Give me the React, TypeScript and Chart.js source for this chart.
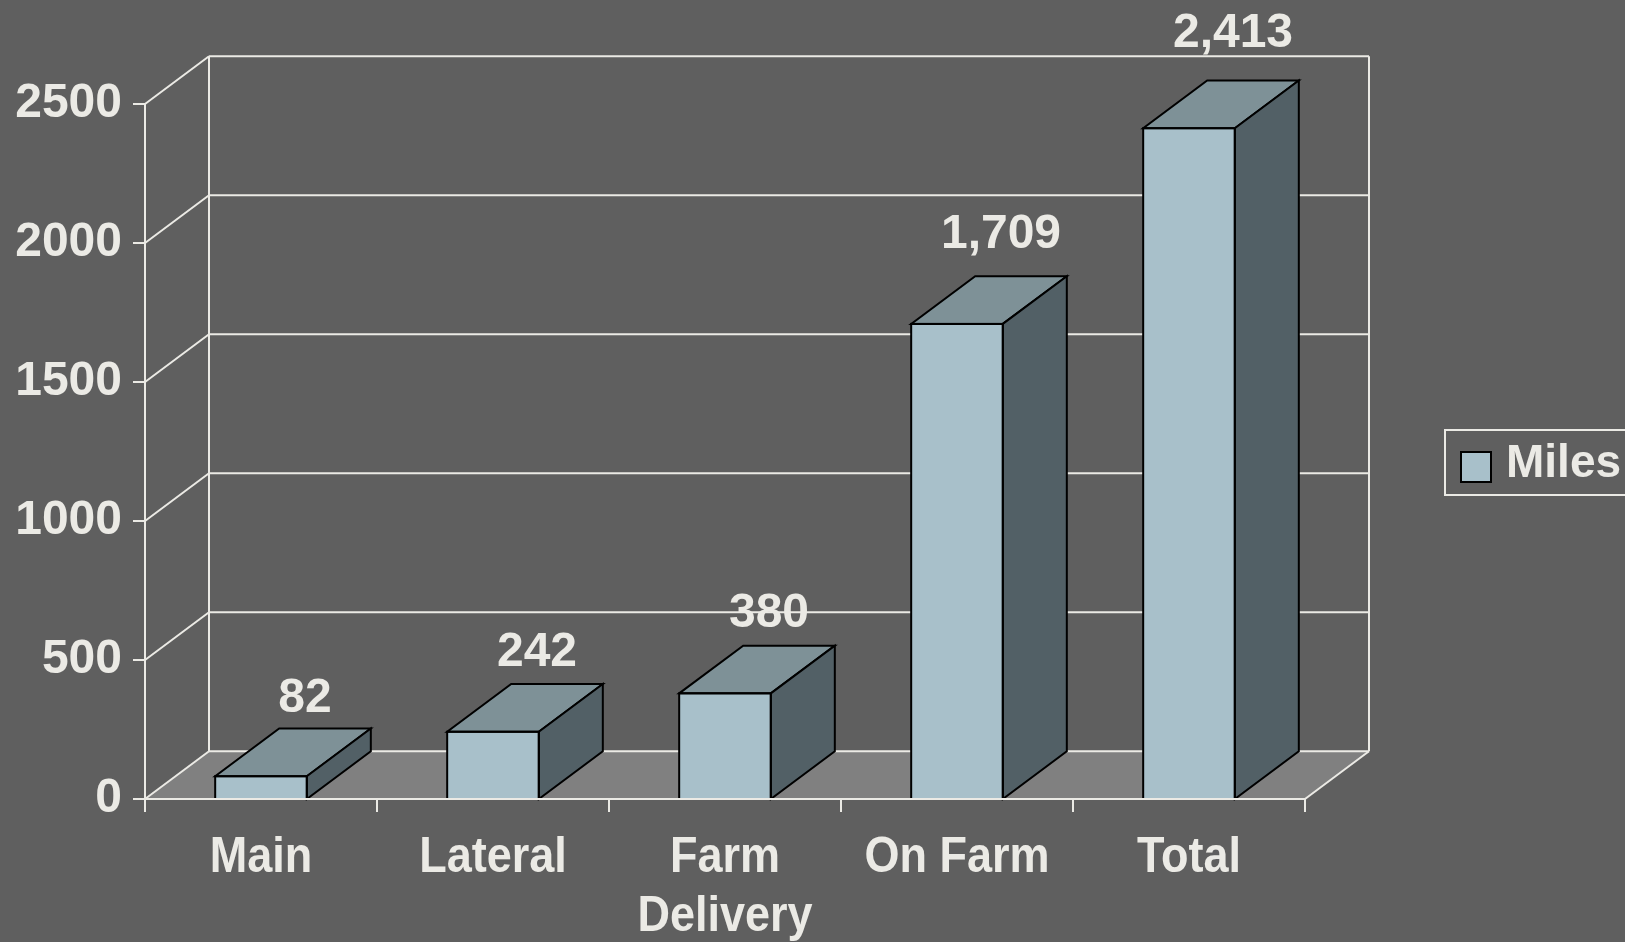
import React, { useEffect, useRef } from "react";
import { Chart, registerables } from "chart.js";

Chart.register(...registerables);

// ---- data ----
const CATEGORIES: (string | string[])[] = ["Main", "Lateral", ["Farm", "Delivery"], "On Farm", "Total"];
const MILES: number[] = [82, 242, 380, 1709, 2413];
const SERIES_LABEL = "Miles";
const Y_TICKS: number[] = [0, 500, 1000, 1500, 2000, 2500];

// ---- style ----
const BG = "#5f5f5f";
const FLOOR = "#808080";
const LINE = "#ebeae5";
const TEXT = "#ebeae5";
const FRONT = "#a8c0ca";
const TOP = "#7e9197";
const SIDE = "#526066";
const EDGE = "#000000";
const DX = 64;
const DY = 47.7;
const NUM_FONT = "'Liberation Sans', Arial, sans-serif";

const threeD = {
  id: "threeD",
  beforeDraw(chart: any) {
    const { ctx, width, height } = chart;
    ctx.save();
    ctx.fillStyle = BG;
    ctx.fillRect(0, 0, width, height);
    ctx.restore();
  },
  beforeDatasetsDraw(chart: any) {
    const { ctx, chartArea: a, scales } = chart;
    const y = scales.y;
    const y0 = y.getPixelForValue(0);
    const line = (x1: number, y1: number, x2: number, y2: number) => {
      ctx.beginPath();
      ctx.moveTo(x1, y1);
      ctx.lineTo(x2, y2);
      ctx.stroke();
    };
    ctx.save();
    // floor
    ctx.fillStyle = FLOOR;
    ctx.beginPath();
    ctx.moveTo(a.left, y0);
    ctx.lineTo(a.right, y0);
    ctx.lineTo(a.right + DX, y0 - DY);
    ctx.lineTo(a.left + DX, y0 - DY);
    ctx.closePath();
    ctx.fill();

    ctx.strokeStyle = LINE;
    ctx.lineWidth = 2;
    ctx.lineCap = "butt";
    Y_TICKS.forEach((v) => {
      const py = y.getPixelForValue(v);
      line(a.left + DX, py - DY, a.right + DX, py - DY);
      line(a.left, py, a.left + DX, py - DY);
      line(a.left - 12, py, a.left, py);
    });
    const yTop = y.getPixelForValue(Y_TICKS[Y_TICKS.length - 1]);
    line(a.left + DX, yTop - DY, a.left + DX, y0 - DY);
    line(a.right + DX, yTop - DY, a.right + DX, y0 - DY);
    line(a.left, yTop, a.left, y0);
    line(a.right, y0, a.right + DX, y0 - DY);
    ctx.restore();
  },
  afterDatasetsDraw(chart: any) {
    const { ctx, chartArea: a, scales } = chart;
    const y = scales.y;
    const x = scales.x;
    const y0 = y.getPixelForValue(0);
    const meta = chart.getDatasetMeta(0);
    const poly = (pts: number[][], fill: string) => {
      ctx.beginPath();
      ctx.moveTo(pts[0][0], pts[0][1]);
      for (let i = 1; i < pts.length; i++) ctx.lineTo(pts[i][0], pts[i][1]);
      ctx.closePath();
      ctx.fillStyle = fill;
      ctx.fill();
      ctx.stroke();
    };
    ctx.save();
    ctx.strokeStyle = EDGE;
    ctx.lineWidth = 2;
    ctx.lineJoin = "miter";
    meta.data.forEach((bar: any, i: number) => {
      const p = bar.getProps(["x", "y", "base", "width"], true);
      const xl = p.x - p.width / 2;
      const xr = p.x + p.width / 2;
      const top = p.y;
      const base = p.base;
      poly([[xl, top], [xr, top], [xr + DX, top - DY], [xl + DX, top - DY]], TOP);
      poly([[xr, top], [xr + DX, top - DY], [xr + DX, base - DY], [xr, base]], SIDE);
      ctx.strokeRect(xl, top, p.width, base - top);
      // value label
      ctx.fillStyle = TEXT;
      ctx.font = `bold 48px ${NUM_FONT}`;
      ctx.textAlign = "center";
      ctx.textBaseline = "alphabetic";
      const h = base - top;
      ctx.fillText(MILES[i].toLocaleString("en-US"), p.x + 44, top - 64 - 0.025 * h);
    });
    // front baseline and category ticks
    ctx.strokeStyle = LINE;
    ctx.lineWidth = 2;
    ctx.beginPath();
    ctx.moveTo(a.left - 12, y0);
    ctx.lineTo(a.right, y0);
    ctx.stroke();
    const n = CATEGORIES.length;
    for (let k = 0; k <= n; k++) {
      const px = a.left + (k * (a.right - a.left)) / n;
      ctx.beginPath();
      ctx.moveTo(px, y0);
      ctx.lineTo(px, y0 + 13);
      ctx.stroke();
    }
    // category labels (condensed bold)
    ctx.fillStyle = TEXT;
    ctx.font = `bold 50px ${NUM_FONT}`;
    ctx.textAlign = "center";
    ctx.textBaseline = "alphabetic";
    CATEGORIES.forEach((lab, i) => {
      const cx = x.getPixelForValue(i);
      const lines = Array.isArray(lab) ? lab : [lab];
      lines.forEach((t, j) => {
        ctx.save();
        ctx.translate(cx, y0 + 73 + j * 59);
        ctx.scale(0.9, 1);
        ctx.fillText(t, 0, 0);
        ctx.restore();
      });
    });
    ctx.restore();
  },
  afterDraw(chart: any) {
    const { ctx, chartArea: a } = chart;
    ctx.save();
    const bx = a.right + 140;
    const by = 430;
    const bh = 65;
    ctx.strokeStyle = LINE;
    ctx.lineWidth = 2;
    ctx.strokeRect(bx, by, 300, bh);
    ctx.fillStyle = FRONT;
    ctx.fillRect(bx + 16, by + 22, 30, 30);
    ctx.strokeStyle = EDGE;
    ctx.strokeRect(bx + 16, by + 22, 30, 30);
    ctx.fillStyle = TEXT;
    ctx.font = `bold 46px ${NUM_FONT}`;
    ctx.textAlign = "left";
    ctx.textBaseline = "middle";
    ctx.fillText(SERIES_LABEL, bx + 61, by + bh / 2 + 2);
    ctx.restore();
  },
};

export default function App() {
  const ref = useRef<HTMLCanvasElement | null>(null);
  useEffect(() => {
    if (!ref.current) return;
    const chart = new Chart(ref.current, {
      type: "bar",
      data: {
        labels: CATEGORIES as any,
        datasets: [
          {
            label: SERIES_LABEL,
            data: MILES,
            backgroundColor: FRONT,
            borderColor: EDGE,
            borderWidth: 0,
            barPercentage: 0.395,
            categoryPercentage: 1,
          },
        ],
      },
      options: {
        animation: false,
        responsive: false,
        maintainAspectRatio: false,
        layout: { padding: { left: 0, right: 320, top: 104, bottom: 0 } },
        plugins: { legend: { display: false }, tooltip: { enabled: false } },
        scales: {
          x: {
            type: "category",
            offset: true,
            grid: { display: false, drawTicks: false },
            border: { display: false },
            ticks: { display: false, autoSkip: false },
            afterFit: (s: any) => {
              s.height = 143;
            },
          },
          y: {
            type: "linear",
            min: 0,
            max: 2500,
            grid: { display: false, drawTicks: false },
            border: { display: false },
            ticks: {
              color: TEXT,
              font: { family: NUM_FONT, size: 48, weight: "bold" },
              padding: 23,
              stepSize: 500,
              callback: (v: any) => String(v),
            },
            afterBuildTicks: (s: any) => {
              s.ticks = Y_TICKS.map((v) => ({ value: v }));
            },
            afterFit: (s: any) => {
              s.width = 145;
            },
          },
        },
      },
      plugins: [threeD],
    });
    return () => chart.destroy();
  }, []);
  return (
    <div style={{ position: "fixed", left: 0, top: 0, width: 1625, height: 942, background: BG }}>
      <canvas ref={ref} width={1625} height={942} style={{ display: "block" }} />
    </div>
  );
}
